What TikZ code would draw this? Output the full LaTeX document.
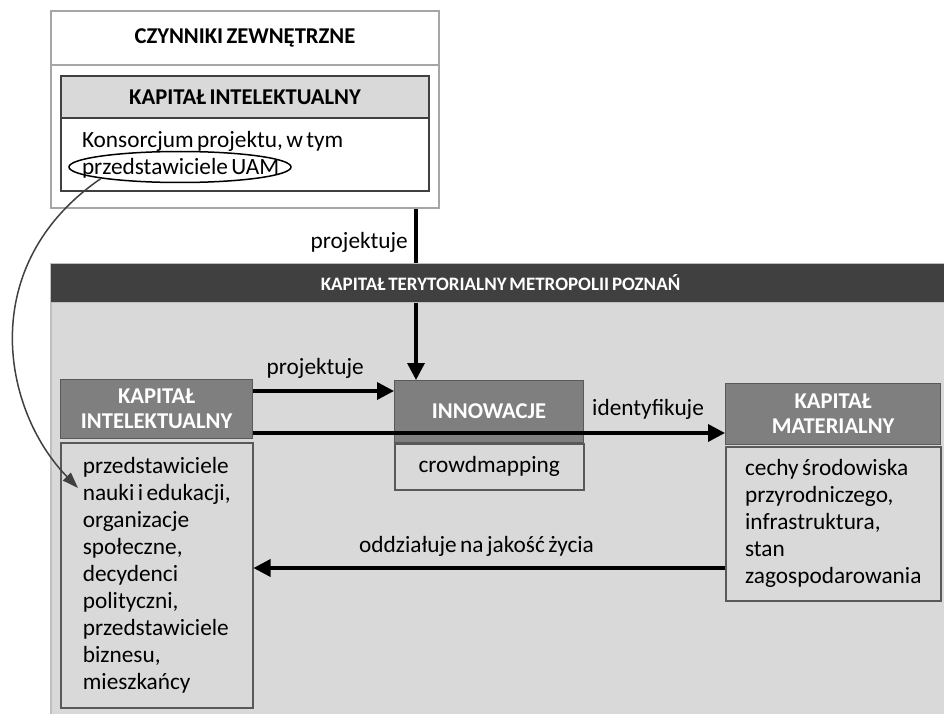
\documentclass[tikz,border=0pt]{standalone}
\usepackage{fontspec}
\setmainfont{Carlito}[WordSpace=0.65]
\usetikzlibrary{arrows.meta,shapes.geometric}
\definecolor{lightg}{HTML}{D9D9D9}
\definecolor{midg}{HTML}{7F7F7F}
\definecolor{darkg}{HTML}{404040}
\definecolor{edgeg}{HTML}{595959}
\definecolor{outerg}{HTML}{A6A6A6}
\definecolor{regedge}{HTML}{BFBFBF}
\begin{document}
\begin{tikzpicture}[x=1pt,y=-1pt,
  reg/.style={font=\fontsize{23.3}{27}\selectfont},
  boldf/.style={font=\fontsize{22.6}{25}\selectfont\bfseries},
  cornerbox/.style={inner sep=0pt, anchor=north west},
  hdr/.style={cornerbox, draw=edgeg, line width=1.2pt, fill=midg, text=white, boldf, align=center},
  body/.style={cornerbox, draw=edgeg, line width=1.5pt, fill=lightg, reg, align=left},
  arr/.style={line width=3.5pt, -{Triangle[length=17pt,width=17pt]}},
  lbl/.style={reg, inner sep=0pt},
]
\useasboundingbox (0,0) rectangle (944,714);

% ---- top box: external factors
\node[cornerbox, draw=outerg, line width=2pt, fill=white, minimum width=388pt, minimum height=197pt] (ext) at (50,10) {};
\node[cornerbox, draw=outerg, line width=2pt, minimum width=388pt, minimum height=54pt, boldf] (exttitle) at (50,10) {CZYNNIKI ZEWNĘTRZNE};
\node[cornerbox, draw=darkg, line width=2pt, fill=lightg, minimum width=368pt, minimum height=42pt, boldf] (ikH) at (60,75) {KAPITAŁ INTELEKTUALNY};
\node[cornerbox, draw=darkg, line width=2pt, fill=white, minimum width=368pt, minimum height=73pt, text width=326pt, align=flush left, reg] (ikB) at (60,117) {Konsorcjum projektu, w tym\\przedstawiciele UAM};
\node[draw, ellipse, line width=1.5pt, minimum width=222pt, minimum height=31pt, inner sep=0pt] (uam) at (180,167) {};

% ---- territorial capital region
\node[cornerbox, draw=regedge, line width=2pt, fill=lightg, minimum width=900pt, minimum height=460pt] (terr) at (50,263) {};

% vertical connector (passes behind the dark bar)
\coordinate (pj) at (416,300);
\node[cornerbox, minimum width=189pt, minimum height=62pt] (inHpos) at (394,380) {};
\draw[arr] (ext.south -| pj) -- (pj |- inHpos.north);

\node[cornerbox, draw=regedge, line width=1pt, fill=darkg, minimum width=900pt, minimum height=39pt, text=white, font=\fontsize{19}{20}\selectfont\bfseries] (bar) at (50,263) {KAPITAŁ TERYTORIALNY METROPOLII POZNAŃ};

% ---- inner boxes
\node[hdr, minimum width=192pt, minimum height=59pt] (kiH) at (60,379) {KAPITAŁ\\INTELEKTUALNY};
\node[body, minimum width=192pt, minimum height=265pt] (kiB) at (60,442) {przedstawiciele\\nauki i edukacji,\\organizacje\\społeczne,\\decydenci\\polityczni,\\przedstawiciele\\biznesu,\\mieszkańcy};

\node[hdr, minimum width=189pt, minimum height=62pt] (inH) at (394,380) {INNOWACJE};
\node[body, minimum width=189pt, minimum height=46pt] (inB) at (394,443) {crowdmapping};

\node[hdr, minimum width=215pt, minimum height=61pt] (matH) at (725,383) {KAPITAŁ\\MATERIALNY};
\node[body, minimum width=215pt, minimum height=154pt] (matB) at (725,446) {cechy środowiska\\przyrodniczego,\\infrastruktura,\\stan\\zagospodarowania};

% ---- connectors
\coordinate (y1) at (0,391);
\coordinate (y2) at (0,433);
\coordinate (y3) at (0,568);
\coordinate (cend) at (78,488);

\draw[arr] (kiH.east |- y1) -- (inH.west |- y1);
\draw[arr] (kiH.east |- y2) -- (matH.west |- y2);
\draw[arr] (matB.west |- y3) -- (kiB.east |- y3);
\draw[darkg, line width=1.5pt, -{Triangle[length=16pt,width=11pt]}] (uam.south west) .. controls (-25,265) and (2,410) .. (cend);

% ---- labels
\node[lbl, anchor=base east] (l1) at (408,248) {projektuje};
\node[lbl, anchor=base east] (l2) at (364,374) {projektuje};
\node[lbl, anchor=base west] (l3) at (592,415) {identyfikuje};
\node[lbl, anchor=base west] (l4) at (359,552) {oddziałuje na jakość życia};
\end{tikzpicture}
\end{document}
